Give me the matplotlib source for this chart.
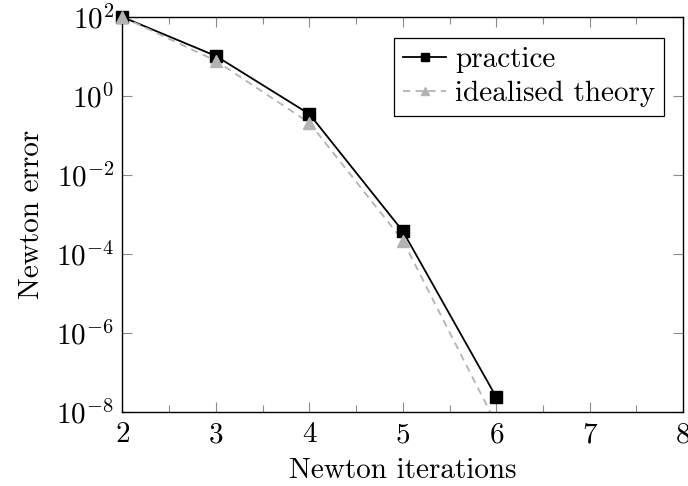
import matplotlib
matplotlib.use("Agg")
import matplotlib.pyplot as plt
from matplotlib.ticker import FixedLocator, NullLocator, LogFormatterSciNotation

plt.rcParams.update({
    "font.family": "serif",
    "font.serif": ["cmr10"],
    "mathtext.fontset": "cm",
    "axes.formatter.use_mathtext": True,
    "font.size": 21,
})

iterations = [2, 3, 4, 5, 6]
practice = [100, 10.3, 0.35, 3.8e-4, 2.4e-8]
theory = [100, 7.8, 0.21, 2.2e-4, 5e-9]

x_ticks = [2, 3, 4, 5, 6, 7, 8]
y_ticks = [1e2, 1e0, 1e-2, 1e-4, 1e-6, 1e-8]

y_min, y_max = 1e-8, 1e2

fig = plt.figure(figsize=(6.88, 4.86), dpi=100)
ax = fig.add_axes([0.178, 0.152, 0.815, 0.813])

series = [
    (practice, "black", "-", "s", "practice"),
    (theory, "#b3b3b3", (0, (4, 3)), "^", "idealised theory"),
]
for values, color, style, mk, name in series:
    # connecting line, clipped to the axes
    ax.plot(iterations, values, color=color, lw=1.3, ls=style, zorder=2)
    # markers inside the y-range are drawn unclipped, as pgfplots does
    inside = [(x, v) for x, v in zip(iterations, values) if y_min <= v <= y_max]
    ax.plot([p[0] for p in inside], [p[1] for p in inside], ls="none",
            marker=mk, color=color, markersize=9, clip_on=False, zorder=3)
    # legend entry
    ax.plot([], [], color=color, lw=1.3, ls=style, marker=mk,
            markersize=6, label=name)

ax.set_yscale("log")
ax.set_xlim(2, 8)
ax.set_ylim(y_min, y_max)
ax.xaxis.set_major_locator(FixedLocator(x_ticks))
ax.xaxis.set_minor_locator(FixedLocator([2.5, 3.5, 4.5, 5.5, 6.5, 7.5]))
ax.yaxis.set_major_locator(FixedLocator(y_ticks))
ax.yaxis.set_minor_locator(NullLocator())
ax.yaxis.set_major_formatter(LogFormatterSciNotation())

ax.tick_params(which="both", direction="in", top=True, right=True,
               color="#8a8a8a", width=0.8, labelsize=21)
ax.tick_params(which="major", length=7)
ax.tick_params(which="minor", length=5)
ax.tick_params(axis="x", pad=7)
ax.tick_params(axis="y", pad=6)
for s in ax.spines.values():
    s.set_linewidth(1.0)

ax.set_xlabel("Newton iterations", fontsize=21, labelpad=7)
ax.set_ylabel("Newton error", fontsize=21, labelpad=8)

leg = ax.legend(loc="upper right", bbox_to_anchor=(0.966, 0.947),
                fontsize=21, fancybox=False, framealpha=1,
                edgecolor="black", handlelength=1.5, handletextpad=0.3,
                borderpad=0.3, labelspacing=0.25, borderaxespad=0.0)
leg.get_frame().set_linewidth(0.9)

fig.savefig("out.png", dpi=100)
